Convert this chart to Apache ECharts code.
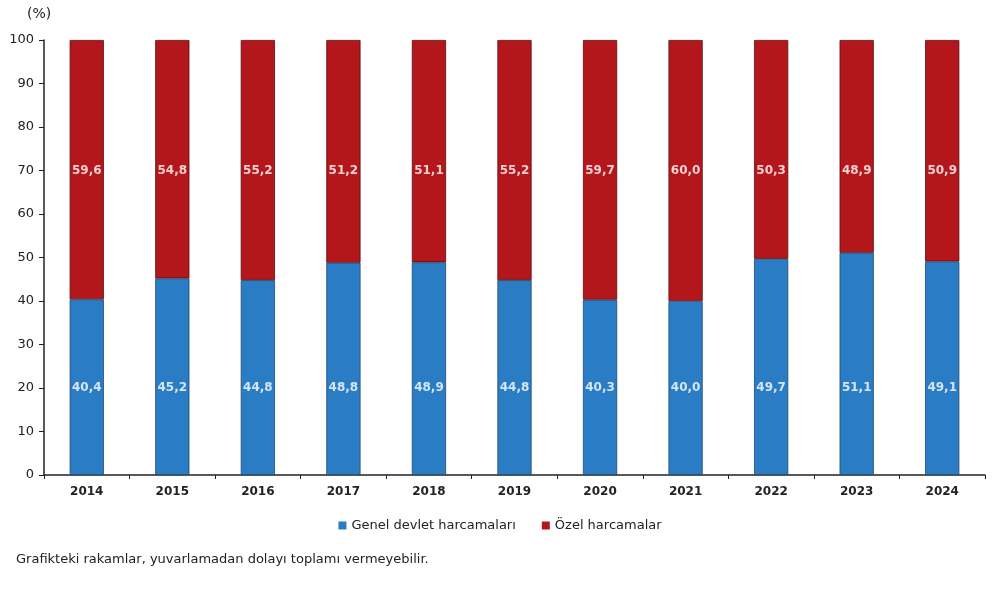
<!DOCTYPE html>
<html><head><meta charset="utf-8">
<script src="https://cdn.jsdelivr.net/npm/echarts@6/dist/echarts.min.js"></script>
<style>html,body{margin:0;padding:0;background:#fff}#c{width:1000px;height:593px}</style>
</head><body><div id="c"></div>
<script>
const years = ['2014','2015','2016','2017','2018','2019','2020','2021','2022','2023','2024'];
const genel = [40.4,45.2,44.8,48.8,48.9,44.8,40.3,40.0,49.7,51.1,49.1];
const ozel = [59.6,54.8,55.2,51.2,51.1,55.2,59.7,60.0,50.3,48.9,50.9];
const genelLabelLevel = 20;
const ozelLabelLevel = 70;
const fmt = v => v.toFixed(1).replace('.', ',');
const FONT = 'DejaVu Sans, Verdana, sans-serif';
const chart = echarts.init(document.getElementById('c'));
chart.setOption({
  animation: false,
  textStyle: {fontFamily: FONT},
  grid: {left: 44, right: 15, top: 40, bottom: 118, containLabel: false},
  legend: {
    data: ['Genel devlet harcamaları', 'Özel harcamalar'],
    top: 514, left: 'center', itemWidth: 8, itemHeight: 8, itemGap: 26,
    icon: 'rect',
    itemStyle: {borderWidth: 0},
    textStyle: {fontSize: 13, color: '#222', fontFamily: FONT}
  },
  graphic: [
    {type: 'text', left: 27, top: 7, style: {text: '(%)', fontSize: 14, fill: '#222', fontFamily: FONT}},
    {type: 'text', left: 16, top: 553, style: {text: 'Grafikteki rakamlar, yuvarlamadan dolayı toplamı vermeyebilir.', fontSize: 13, fill: '#222', fontFamily: FONT}}
  ],
  xAxis: {
    type: 'category', data: years,
    axisLine: {lineStyle: {color: '#222', width: 1.5}},
    axisTick: {show: true, length: 4, lineStyle: {color: '#222'}},
    axisLabel: {color: '#222', fontSize: 12, margin: 11, fontWeight: 'bold'}
  },
  yAxis: {
    type: 'value', min: 0, max: 100, interval: 10,
    axisLine: {show: true, lineStyle: {color: '#222', width: 1.5}},
    axisTick: {show: true, length: 5, lineStyle: {color: '#222'}},
    splitLine: {show: false},
    axisLabel: {color: '#222', fontSize: 13, margin: 10}
  },
  series: [
    {name: 'Genel devlet harcamaları', type: 'bar', stack: 's', data: genel, barWidth: '40%',
     itemStyle: {color: '#2a7dc4', borderColor: '#1f4a70', borderWidth: 0.8}},
    {name: 'Özel harcamalar', type: 'bar', stack: 's', data: ozel, barWidth: '40%',
     itemStyle: {color: '#b3171c', borderColor: '#5a0e10', borderWidth: 0.8}},
    {type: 'scatter', symbolSize: 0, silent: true, z: 10,
     data: genel.map(v => ({value: genelLabelLevel, raw: v})),
     label: {show: true, position: 'inside', color: '#fff', fontSize: 12, fontWeight: 'bold', fontFamily: FONT,
       formatter: p => fmt(p.data.raw)}},
    {type: 'scatter', symbolSize: 0, silent: true, z: 10,
     data: ozel.map(v => ({value: ozelLabelLevel, raw: v})),
     label: {show: true, position: 'inside', color: '#fff', fontSize: 12, fontWeight: 'bold', fontFamily: FONT,
       formatter: p => fmt(p.data.raw)}}
  ]
});
</script></body></html>
